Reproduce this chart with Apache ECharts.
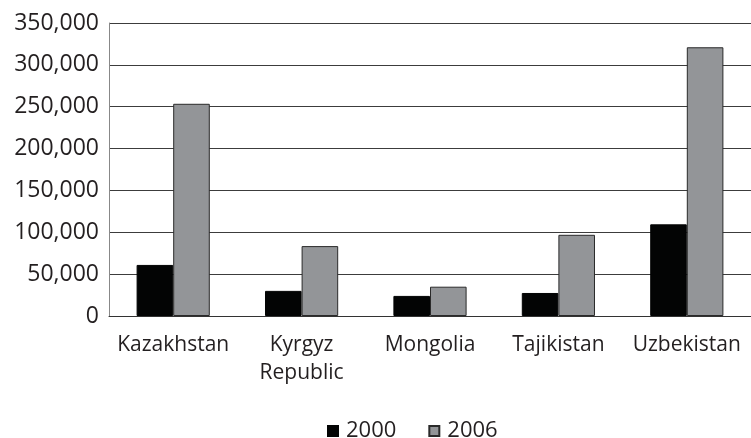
<!DOCTYPE html>
<html>
<head>
<meta charset="utf-8">
<script src="https://cdn.jsdelivr.net/npm/echarts@6/dist/echarts.min.js"></script>
<style>
html, body { margin: 0; padding: 0; background: #fff; overflow: hidden; }
#chart { width: 751px; height: 438px; }
</style>
</head>
<body>
<div id="chart"></div>
<script>
// 数据
var categories = ['Kazakhstan', 'Kyrgyz\nRepublic', 'Mongolia', 'Tajikistan', 'Uzbekistan'];
var seriesNames = ['2000', '2006'];
var values2000 = [61000, 30000, 24000, 27500, 109500];
var values2006 = [253500, 83500, 35000, 97000, 321000];

var chart = echarts.init(document.getElementById('chart'));
var font = '"Open Sans", "Noto Sans", sans-serif';

var option = {
    animation: false,
    textStyle: { fontFamily: font },
    grid: {
        left: 109,
        right: -11,
        top: 23,
        bottom: 122,
        containLabel: false
    },
    legend: {
        data: seriesNames,
        left: 327,
        top: 419,
        padding: 0,
        itemWidth: 10,
        itemHeight: 10,
        itemGap: 32,
        icon: 'rect',
        textStyle: {
            fontFamily: font,
            fontSize: 22,
            lineHeight: 24,
            color: '#231f20',
            padding: [0, 0, 0, 3]
        }
    },
    xAxis: {
        type: 'category',
        data: categories,
        axisTick: { show: false },
        axisLine: {
            show: true,
            lineStyle: { color: '#333', width: 1 }
        },
        axisLabel: {
            interval: 0,
            margin: 15,
            fontSize: 21,
            lineHeight: 28,
            color: '#231f20',
            fontFamily: font
        }
    },
    yAxis: {
        type: 'value',
        min: 0,
        max: 350000,
        interval: 50000,
        axisTick: { show: false },
        axisLine: {
            show: true,
            lineStyle: { color: '#888', width: 1 }
        },
        splitLine: {
            show: true,
            lineStyle: { color: '#3c3c3c', width: 1 }
        },
        axisLabel: {
            margin: 10,
            fontSize: 23,
            color: '#231f20',
            fontFamily: font,
            formatter: function (v) {
                return v.toString().replace(/\B(?=(\d{3})+(?!\d))/g, ',');
            }
        }
    },
    series: [
        {
            name: seriesNames[0],
            type: 'bar',
            data: values2000,
            barGap: '0%',
            barCategoryGap: '43%',
            itemStyle: {
                color: '#030404',
                borderColor: '#030404',
                borderWidth: 1
            }
        },
        {
            name: seriesNames[1],
            type: 'bar',
            data: values2006,
            barGap: '0%',
            barCategoryGap: '43%',
            itemStyle: {
                color: '#939598',
                borderColor: '#2a2a2a',
                borderWidth: 1
            }
        }
    ]
};

chart.setOption(option);
</script>
</body>
</html>
